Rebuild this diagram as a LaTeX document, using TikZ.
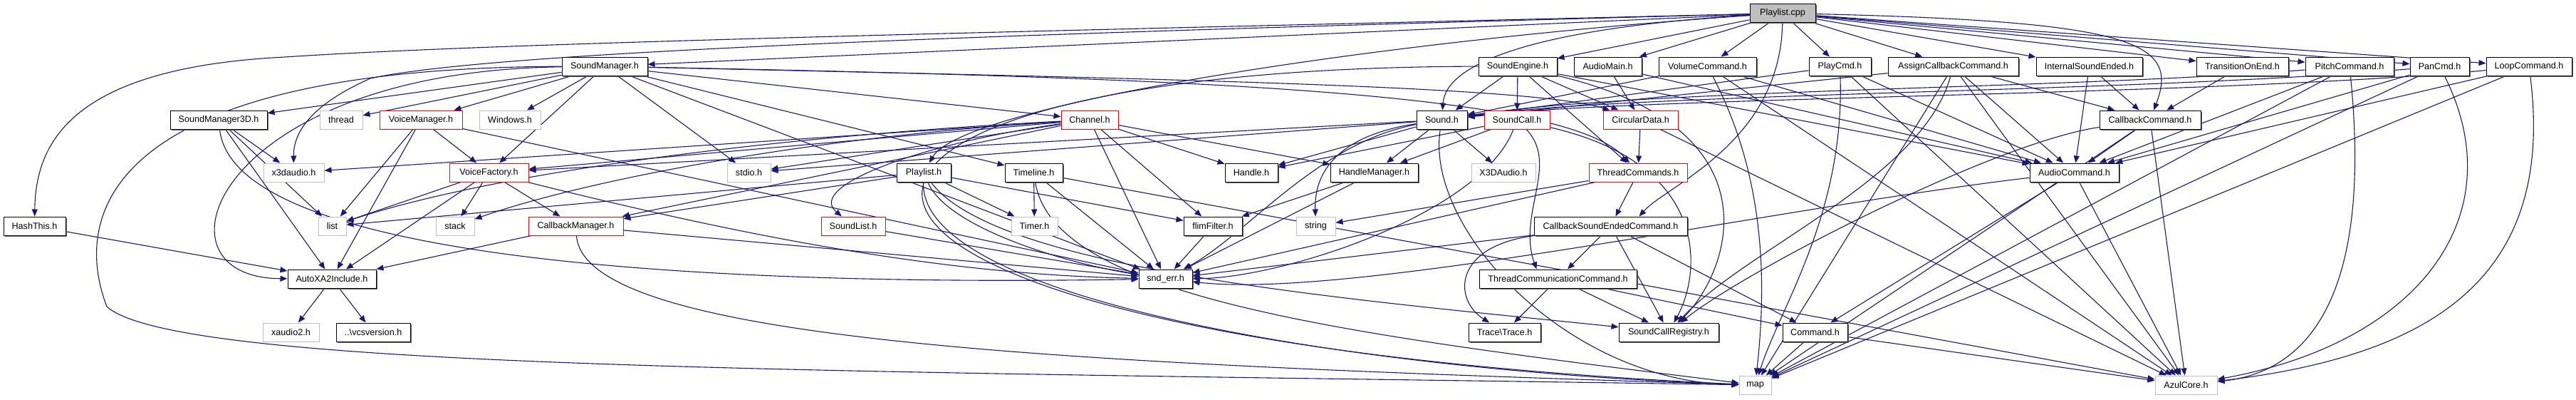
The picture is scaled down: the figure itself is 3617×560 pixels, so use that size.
\documentclass[tikz,border=0pt]{standalone}
\usepackage{fontspec}
\setmainfont{Liberation Sans}
\usepackage{tikz}
\usetikzlibrary{arrows.meta,backgrounds,shadows}
\definecolor{edgeblue}{RGB}{25,25,112}
\definecolor{sysgray}{RGB}{191,191,191}

\begin{document}
\begin{tikzpicture}[x=1pt,y=-1pt,every node/.style={font=\fontsize{12.6}{14}\selectfont},
  base/.style={draw=black,line width=1pt,fill=white,minimum height=26pt,inner sep=0pt},
  hdr/.style={base,drop shadow={shadow xshift=1.5pt,shadow yshift=-1.5pt,fill=black!60,opacity=1}},
  sys/.style={base,draw=sysgray},
  cut/.style={base,draw=red},
  root/.style={hdr,fill=sysgray},
  arr/.style={-{Triangle[length=10pt,width=8pt]},draw=edgeblue,line width=1.1pt}]
\useasboundingbox (0,0) rectangle (3617,560);
\node[root,minimum width=92pt] (pc) at (2503,18.5) {Playlist.cpp};
% row 2
\node[hdr,minimum width=120pt] (sm) at (849,93) {SoundManager.h};
\node[hdr,minimum width=110pt] (se) at (2131,93) {SoundEngine.h};
\node[hdr,minimum width=95pt] (am) at (2257.5,93) {AudioMain.h};
\node[hdr,minimum width=137pt] (vc) at (2397.5,93) {VolumeCommand.h};
\node[hdr,minimum width=87pt] (pcmd) at (2583.5,93) {PlayCmd.h};
\node[hdr,minimum width=183pt] (acc) at (2742.5,93) {AssignCallbackCommand.h};
\node[hdr,minimum width=149pt] (ise) at (2933.5,93) {InternalSoundEnded.h};
\node[hdr,minimum width=129pt] (toe) at (3148.5,93) {TransitionOnEnd.h};
\node[hdr,minimum width=124pt] (pitch) at (3299,93) {PitchCommand.h};
\node[hdr,minimum width=83pt] (pan) at (3425.5,93) {PanCmd.h};
\node[hdr,minimum width=120pt] (loop) at (3551,93) {LoopCommand.h};
% row 3
\node[hdr,minimum width=136pt] (sm3d) at (307,168) {SoundManager3D.h};
\node[sys,minimum width=60pt] (thread) at (479,168) {thread};
\node[cut,minimum width=116pt] (vm) at (591,168) {VoiceManager.h};
\node[sys,minimum width=86pt] (win) at (716,168) {Windows.h};
\node[cut,minimum width=80pt] (chan) at (1530,168) {Channel.h};
\node[hdr,minimum width=71pt] (snd) at (2024.5,168) {Sound.h};
\node[cut,minimum width=92pt] (sc) at (2130,168) {SoundCall.h};
\node[cut,minimum width=105pt] (circ) at (2303.5,168) {CircularData.h};
\node[hdr,minimum width=142pt] (cbc) at (3019,168) {CallbackCommand.h};
% row 4
\node[sys,minimum width=85pt] (x3d) at (412.5,242) {x3daudio.h};
\node[cut,minimum width=111pt] (vf) at (686.5,242) {VoiceFactory.h};
\node[sys,minimum width=61pt] (stdio) at (1051.5,242) {stdio.h};
\node[hdr,minimum width=76pt] (plh) at (1297,242) {Playlist.h};
\node[hdr,minimum width=81pt] (tl) at (1451.5,242) {Timeline.h};
\node[hdr,minimum width=74pt] (handle) at (1757,242) {Handle.h};
\node[hdr,minimum width=123pt] (hm) at (1929.5,242) {HandleManager.h};
\node[sys,minimum width=90pt] (xa) at (2111,242) {X3DAudio.h};
\node[cut,minimum width=138pt] (tcmd) at (2300,242) {ThreadCommands.h};
\node[hdr,minimum width=125pt] (acmd) at (2912.5,242) {AudioCommand.h};
% row 5
\node[hdr,minimum width=87pt] (hash) at (48.5,317) {HashThis.h};
\node[sys,minimum width=39pt] (list) at (466.5,317) {list};
\node[sys,minimum width=54pt] (stack) at (639,317) {stack};
\node[cut,minimum width=133pt] (cbm) at (808.5,317) {CallbackManager.h};
\node[cut,minimum width=90pt] (slist) at (1198,317) {SoundList.h};
\node[sys,minimum width=65pt] (timer) at (1452.5,317) {Timer.h};
\node[hdr,minimum width=82pt] (flim) at (1703,317) {flimFilter.h};
\node[sys,minimum width=55pt] (string) at (1847.5,317) {string};
\node[hdr,minimum width=215pt] (csec) at (2261.5,317) {CallbackSoundEndedCommand.h};
% row 6
\node[hdr,minimum width=124pt] (auto) at (466,391) {AutoXA2Include.h};
\node[hdr,minimum width=75pt] (snderr) at (1636.5,391) {snd\_err.h};
\node[hdr,minimum width=221pt] (tcc) at (2187.5,391) {ThreadCommunicationCommand.h};
% row 7
\node[sys,minimum width=79pt] (xa2) at (408.5,466) {xaudio2.h};
\node[hdr,minimum width=104pt] (vcs) at (524,466) {..\textbackslash vcsversion.h};
\node[hdr,minimum width=101pt] (trace) at (2112.5,466) {Trace\textbackslash Trace.h};
\node[hdr,minimum width=140pt] (scr) at (2343,466) {SoundCallRegistry.h};
\node[hdr,minimum width=91pt] (cmd) at (2548.5,466) {Command.h};
% row 8
\node[sys,minimum width=45pt] (map) at (2464.5,540) {map};
\node[sys,minimum width=87pt] (azul) at (3069.5,540) {AzulCore.h};
\begin{scope}[on background layer]
% Playlist.cpp
\draw[arr] (pc)--(sm);\draw[arr] (pc)--(se);\draw[arr] (pc)--(am);\draw[arr] (pc)--(vc);
\draw[arr] (pc)--(pcmd);\draw[arr] (pc)--(acc);\draw[arr] (pc)--(ise);\draw[arr] (pc)--(toe);
\draw[arr] (pc)--(pitch);\draw[arr] (pc)--(pan);\draw[arr] (pc)--(loop);
\draw[arr] (pc) .. controls (1400,45) and (700,60) .. (400,80) .. controls (100,95) and (50,200) .. (hash);
\draw[arr] (pc) .. controls (1500,45) and (700,70) .. (520,110) .. controls (430,150) and (412,190) .. (x3d);
\draw[arr] (pc) .. controls (2150,40) and (2030,90) .. (snd);
\draw[arr] (pc) .. controls (1900,60) and (1350,150) .. (plh);
\draw[arr] (pc) .. controls (3000,30) and (3060,60) .. (cbc);
\draw[arr] (pc) .. controls (2500,200) and (2340,260) .. ([xshift=40pt]csec.north);
% SoundManager.h
\draw[arr] (sm)--(sm3d);\draw[arr] (sm)--(thread);\draw[arr] (sm)--(vm);\draw[arr] (sm)--(win);
\draw[arr] (sm)--(vf);\draw[arr] (sm)--(stdio);\draw[arr] (sm)--(chan);\draw[arr] (sm)--(tl);
\draw[arr] (sm)--(snderr);
\draw[arr] (sm) .. controls (1600,110) and (2150,120) .. (circ);
\draw[arr] (sm) .. controls (1700,110) and (2200,130) .. (tcmd);
\draw[arr] (sm) .. controls (300,100) and (200,390) .. (auto);
\draw[arr] (sm) .. controls (150,95) and (100,300) .. (150,430) .. controls (250,520) and (1200,520) .. (map);
% left part
\draw[arr] (sm3d)--(x3d);\draw[arr] (sm3d)--(list);\draw[arr] (sm3d)--(auto);
\draw[arr] (sm3d) .. controls (330,380) and (1100,400) .. (snderr);
\draw[arr] (vm)--(vf);\draw[arr] (vm)--(list);\draw[arr] (vm)--(auto);\draw[arr] (vm)--(snderr);
\draw[arr] (vf)--(list);\draw[arr] (vf)--(stack);\draw[arr] (vf)--(cbm);\draw[arr] (vf)--(auto);
\draw[arr] (vf) .. controls (1000,320) and (1300,385) .. (snderr);
\draw[arr] (cbm)--(auto);\draw[arr] (cbm)--(snderr);
\draw[arr] (cbm) .. controls (820,480) and (1500,510) .. (map);
\draw[arr] (hash)--(auto);\draw[arr] (auto)--(xa2);\draw[arr] (auto)--(vcs);
% Channel.h
\draw[arr] (chan)--(x3d);\draw[arr] (chan)--(vf);\draw[arr] (chan)--(cbm);\draw[arr] (chan)--(stdio);
\draw[arr] (chan)--(handle);\draw[arr] (chan)--(flim);\draw[arr] (chan)--(snderr);\draw[arr] (chan)--(hm);
\draw[arr] (chan) .. controls (1100,190) and (700,240) .. (list);
\draw[arr] (chan) .. controls (1100,195) and (800,260) .. (stack);
\draw[arr] (chan) .. controls (1300,200) and (1130,260) .. (slist);
% Sound.h, SoundCall.h
\draw[arr] (snd)--(handle);\draw[arr] (snd)--(hm);\draw[arr] (snd)--(xa);\draw[arr] (snd)--(stdio);\draw[arr] (snd)--(vf);
\draw[arr] (snd) .. controls (1880,190) and (1845,240) .. (string);
\draw[arr] (snd) .. controls (1850,200) and (1750,330) .. (snderr);
\draw[arr] (snd) .. controls (2000,320) and (2200,535) .. (map);
\draw[arr] (sc)--(hm);\draw[arr] (sc)--(handle);
\draw[arr] (sc) .. controls (2190,230) and (2130,300) .. ([xshift=-30pt]tcc.north);
\draw[arr] (sc) .. controls (2080,300) and (1800,390) .. (snderr);
\draw[arr] (sc) .. controls (2400,230) and (2390,380) .. (scr);
% thread commands
\draw[arr] (circ)--(tcmd);\draw[arr] (circ)--(azul);
\draw[arr] (tcmd)--(csec);\draw[arr] (tcmd)--(string);\draw[arr] (tcmd)--(snderr);
\draw[arr] (csec)--(tcc);\draw[arr] (csec)--(scr);\draw[arr] (csec)--(cmd);\draw[arr] (csec)--(snderr);
\draw[arr] (csec) .. controls (2040,345) and (2040,420) .. (trace);
\draw[arr] (tcc)--(trace);\draw[arr] (tcc)--(scr);\draw[arr] (tcc)--(cmd);
% SoundEngine.h, AudioMain.h
\draw[arr] (se)--(snd);\draw[arr] (se)--(sc);\draw[arr] (se)--(circ);\draw[arr] (se)--(tcmd);\draw[arr] (se)--(acmd);
\draw[arr] (se) .. controls (1000,95) and (960,470) .. (map);
\draw[arr] (se) .. controls (2500,180) and (2430,380) .. (scr);
\draw[arr] (am)--(circ);\draw[arr] (am)--(acmd);
% commands
\draw[arr] (vc)--(snd);\draw[arr] (vc)--(acmd);\draw[arr] (vc)--(azul);
\draw[arr] (vc) .. controls (2480,250) and (2480,400) .. (map);
\draw[arr] (pcmd)--(snd);\draw[arr] (pcmd)--(acmd);\draw[arr] (pcmd)--(azul);
\draw[arr] (pcmd) .. controls (2590,300) and (2500,430) .. (map);
\draw[arr] (acc)--(snd);\draw[arr] (acc)--(acmd);\draw[arr] (acc)--(cbc);\draw[arr] (acc)--(azul);\draw[arr] (acc)--(map);
\draw[arr] (acc) .. controls (2700,250) and (2450,350) .. (scr);
\draw[arr] (ise)--(cbc);\draw[arr] (ise)--(acmd);\draw[arr] (toe)--(cbc);
\draw[arr] (pitch)--(acmd);\draw[arr] (pitch)--(map);
\draw[arr] (pitch) .. controls (2900,125) and (2300,125) .. (snd);
\draw[arr] (pitch) .. controls (3330,400) and (3250,520) .. (azul);
\draw[arr] (pan)--(acmd);\draw[arr] (pan)--(map);
\draw[arr] (pan) .. controls (3000,130) and (2300,130) .. (snd);
\draw[arr] (pan) .. controls (3530,300) and (3400,480) .. (azul);
\draw[arr] (loop)--(acmd);\draw[arr] (loop)--(map);
\draw[arr] (loop) .. controls (3100,135) and (2300,135) .. (snd);
\draw[arr] (loop) .. controls (3590,400) and (3400,500) .. (azul);
\draw[arr] (cbc)--(acmd);\draw[arr] (cbc)--(azul);\draw[arr] (cbc)--(map);
\draw[arr] (cbc) .. controls (2800,200) and (2450,380) .. (scr);
\draw[arr] (acmd)--(cmd);\draw[arr] (acmd)--(azul);
\draw[arr] (acmd) .. controls (2500,290) and (1900,420) .. (snderr);
\draw[arr] (cmd)--(map);\draw[arr] (cmd)--(azul);
% Playlist.h, Timeline.h and the rest
\draw[arr] (plh)--(list);\draw[arr] (plh)--(cbm);\draw[arr] (plh)--(timer);\draw[arr] (plh)--(flim);
\draw[arr] (plh) .. controls (1330,320) and (1500,370) .. (snderr);
\draw[arr] (plh) .. controls (1290,420) and (1900,520) .. (map);
\draw[arr] (plh) .. controls (1400,380) and (1900,420) .. (scr);
\draw[arr] (tl)--(timer);\draw[arr] (tl)--(snderr);\draw[arr] (tl)--(azul);
\draw[arr] (tl) .. controls (1480,420) and (1900,470) .. (map);
\draw[arr] (hm)--(snderr);\draw[arr] (hm)--(flim);\draw[arr] (flim)--(snderr);\draw[arr] (slist)--(snderr);
\end{scope}
\end{tikzpicture}
\end{document}
